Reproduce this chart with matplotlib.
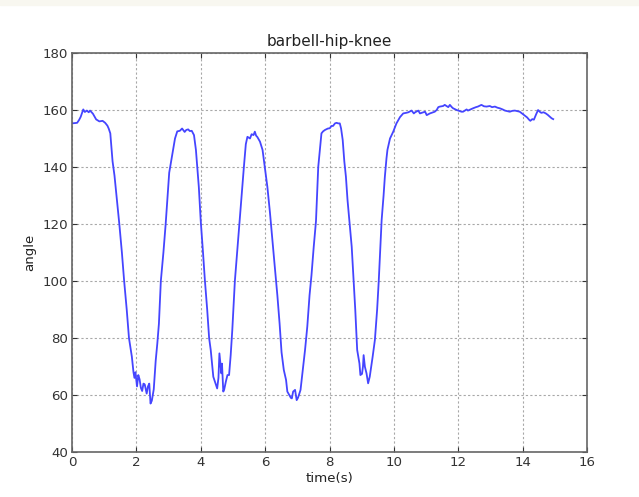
import numpy as np
import matplotlib
matplotlib.use("Agg")
import matplotlib.pyplot as plt
from matplotlib.patches import Rectangle

# values
time = [0.0, 0.16, 0.22, 0.27, 0.35, 0.40, 0.46, 0.52, 0.56, 0.65, 0.75, 0.85, 0.95, 1.03, 1.10,
        1.14, 1.19, 1.26, 1.32, 1.40, 1.47, 1.55, 1.62, 1.70, 1.77, 1.86, 1.91, 1.94, 1.97, 2.02,
        2.06, 2.10, 2.14, 2.18, 2.22, 2.26, 2.30, 2.32, 2.36, 2.40, 2.44, 2.48, 2.54, 2.60, 2.65,
        2.70, 2.76, 2.84, 2.91, 2.96, 3.02, 3.11, 3.20, 3.27, 3.35, 3.42, 3.50, 3.55, 3.61, 3.66,
        3.72, 3.79, 3.85, 3.89, 3.94, 4.00, 4.07, 4.13, 4.20, 4.26, 4.31, 4.39, 4.44, 4.51, 4.55,
        4.58, 4.61, 4.64, 4.66, 4.70, 4.73, 4.78, 4.83, 4.88, 4.93, 4.98, 5.06, 5.13, 5.20, 5.27,
        5.34, 5.40, 5.45, 5.53, 5.58, 5.64, 5.68, 5.72, 5.76, 5.84, 5.92, 5.99, 6.07, 6.15, 6.22,
        6.30, 6.38, 6.45, 6.51, 6.58, 6.65, 6.69, 6.75, 6.80, 6.83, 6.87, 6.93, 6.98, 7.02, 7.05,
        7.10, 7.17, 7.24, 7.31, 7.38, 7.44, 7.51, 7.58, 7.65, 7.70, 7.75, 7.80, 7.86, 7.95, 8.01,
        8.06, 8.11, 8.17, 8.22, 8.27, 8.32, 8.36, 8.41, 8.46, 8.51, 8.56, 8.62, 8.69, 8.75, 8.80,
        8.86, 8.93, 8.96, 9.01, 9.04, 9.06, 9.10, 9.15, 9.20, 9.23, 9.25, 9.29, 9.34, 9.41, 9.48,
        9.53, 9.58, 9.62, 9.68, 9.72, 9.77, 9.80, 9.88, 9.98, 10.08, 10.19, 10.29, 10.38, 10.45, 10.55,
        10.62, 10.66, 10.76, 10.81, 10.86, 10.97, 11.02, 11.12, 11.17, 11.27, 11.33, 11.38, 11.43, 11.53, 11.58,
        11.69, 11.74, 11.80, 11.84, 11.95, 12.00, 12.10, 12.15, 12.26, 12.30, 12.40, 12.46, 12.55, 12.61, 12.72,
        12.80, 12.88, 12.98, 13.05, 13.14, 13.22, 13.29, 13.38, 13.45, 13.52, 13.60, 13.68, 13.76, 13.84, 13.91,
        14.00, 14.07, 14.14, 14.20, 14.24, 14.30, 14.35, 14.42, 14.48, 14.53, 14.58, 14.65, 14.72, 14.78, 14.84,
        14.90, 14.95]
angle = [155.3, 155.5, 156.5, 157.6, 160.2, 159.3, 159.8, 159.2, 159.8, 158.7, 156.7, 156.0, 156.2, 155.5, 154.5,
         153.5, 151.8, 142.0, 137.0, 128.0, 120.0, 110.0, 100.0, 90.0, 80.0, 73.4, 68.0, 66.0, 68.0, 63.0,
         67.0, 65.5, 62.5, 61.4, 64.0, 63.7, 61.5, 60.5, 63.0, 64.0, 57.0, 58.0, 62.0, 72.0, 78.0,
         85.0, 100.0, 110.0, 120.0, 128.4, 138.0, 144.0, 150.0, 152.5, 152.7, 153.5, 152.3, 153.0, 153.2, 152.6,
         152.7, 151.2, 146.0, 140.0, 133.0, 121.0, 110.0, 100.0, 90.0, 80.0, 75.8, 66.4, 64.7, 62.3, 66.0,
         74.6, 71.0, 67.6, 71.0, 61.2, 62.0, 64.7, 67.0, 67.0, 74.0, 82.8, 100.0, 110.0, 120.0, 130.0,
         140.0, 148.0, 150.6, 150.0, 151.5, 151.2, 152.4, 151.0, 150.5, 148.9, 146.0, 140.0, 133.0, 124.0, 115.0,
         105.0, 95.0, 85.0, 75.0, 68.8, 65.3, 61.2, 60.0, 59.0, 58.8, 61.2, 61.8, 58.2, 59.0, 60.0,
         61.8, 68.8, 75.8, 84.0, 95.0, 102.0, 112.0, 121.0, 140.0, 146.0, 151.8, 152.5, 153.0, 153.5, 153.6,
         154.4, 154.4, 155.3, 155.5, 155.3, 155.3, 153.5, 149.5, 142.0, 136.6, 128.4, 121.0, 112.0, 100.0, 90.0,
         75.8, 71.1, 67.0, 67.4, 70.0, 74.0, 69.9, 67.6, 64.1, 65.5, 66.4, 69.4, 73.4, 79.3, 90.0,
         100.0, 112.0, 121.4, 130.0, 136.6, 143.0, 146.0, 150.0, 152.4, 155.3, 157.5, 158.8, 159.0, 159.2, 159.8,
         158.8, 159.2, 159.8, 158.8, 159.0, 159.4, 158.2, 158.8, 159.0, 159.4, 160.0, 161.0, 161.2, 161.4, 161.8,
         161.0, 161.8, 161.0, 160.6, 160.0, 159.8, 159.4, 159.4, 160.2, 159.8, 160.3, 160.6, 161.0, 161.2, 161.8,
         161.3, 161.2, 161.4, 161.0, 161.2, 160.8, 160.6, 160.2, 159.8, 159.6, 159.4, 159.7, 159.8, 159.6, 159.4,
         158.6, 158.0, 157.4, 156.6, 156.2, 156.8, 156.6, 158.5, 160.0, 159.4, 159.0, 159.2, 158.8, 158.3, 157.7,
         157.1, 156.8]

fs = 9.6
fig = plt.figure(figsize=(6.39, 4.97), dpi=100)
fig.patches.append(Rectangle((0, 0.99), 1, 0.01, transform=fig.transFigure,
                             color='#f8f7f0', zorder=0))
ax = fig.add_axes([72/639, 45/497, 515/639, 399/497])

ax.plot(time, angle, color='#4545ff', linewidth=1.3)

ax.set_xlim(0, 16)
ax.set_ylim(40, 180)
ax.set_xticks(np.arange(0, 17, 2))
ax.set_yticks(np.arange(40, 181, 20))
ax.grid(True, linestyle=(0, (2, 2)), color='#a8a8a8', linewidth=0.8)
ax.tick_params(direction='in', top=True, right=True, length=3.5, labelsize=fs,
               colors='#333333', pad=3)
for s in ax.spines.values():
    s.set_color('#666666')
    s.set_linewidth(1.2)

ax.set_title('barbell-hip-knee', fontsize=11, color='#222222', pad=5)
ax.set_xlabel('time(s)', fontsize=fs, color='#222222', labelpad=2)
ax.set_ylabel('angle', fontsize=fs, color='#222222', labelpad=4)

fig.savefig('out.png', dpi=100)
